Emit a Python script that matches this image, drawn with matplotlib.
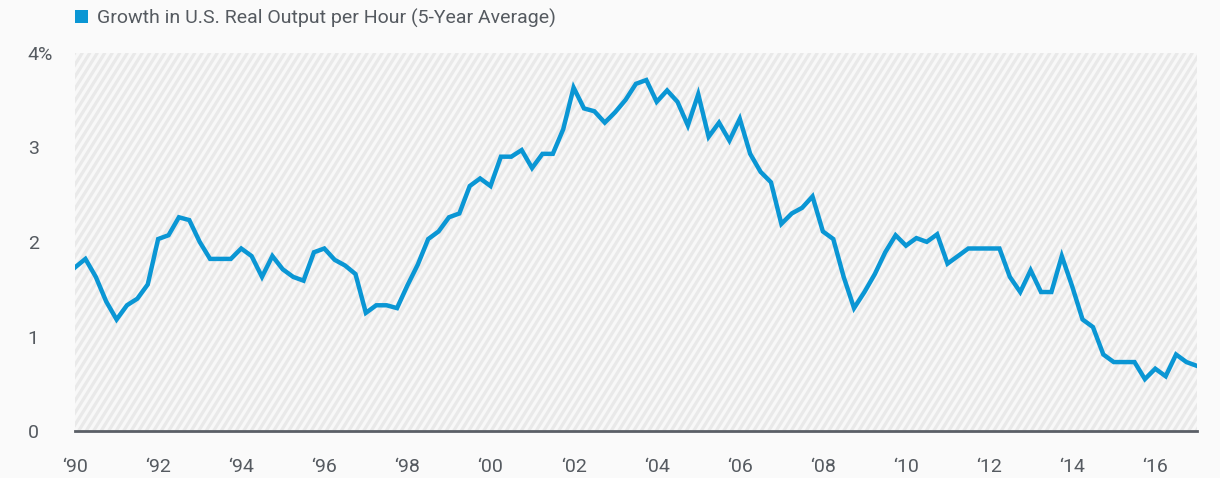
import matplotlib
matplotlib.use('Agg')
import matplotlib.pyplot as plt
from matplotlib.patches import Patch
from matplotlib.collections import LineCollection
import numpy as np

plt.rcParams['font.family'] = ['Roboto', 'DejaVu Sans']

# quarterly, 1990 Q1 .. 2017 Q1
start_year = 1990
growth = [
    1.73, 1.82, 1.63, 1.37,   # 1990
    1.18, 1.33, 1.40, 1.55,   # 1991
    2.03, 2.07, 2.26, 2.23,   # 1992
    2.00, 1.82, 1.82, 1.82,   # 1993
    1.93, 1.85, 1.63, 1.85,   # 1994
    1.71, 1.63, 1.59, 1.89,   # 1995
    1.93, 1.81, 1.75, 1.66,   # 1996
    1.25, 1.33, 1.33, 1.30,   # 1997
    1.54, 1.76, 2.03, 2.11,   # 1998
    2.26, 2.30, 2.59, 2.67,   # 1999
    2.59, 2.90, 2.90, 2.97,   # 2000
    2.78, 2.93, 2.93, 3.19,   # 2001
    3.63, 3.41, 3.38, 3.26,   # 2002
    3.37, 3.50, 3.67, 3.71,   # 2003
    3.48, 3.60, 3.48, 3.23,   # 2004
    3.56, 3.11, 3.26, 3.07,   # 2005
    3.30, 2.93, 2.74, 2.63,   # 2006
    2.19, 2.30, 2.36, 2.48,   # 2007
    2.11, 2.03, 1.63, 1.30,   # 2008
    1.47, 1.66, 1.89, 2.07,   # 2009
    1.96, 2.04, 2.00, 2.08,   # 2010
    1.77, 1.85, 1.93, 1.93,   # 2011
    1.93, 1.93, 1.63, 1.47,   # 2012
    1.70, 1.47, 1.47, 1.85,   # 2013
    1.53, 1.18, 1.10, 0.81,   # 2014
    0.73, 0.73, 0.73, 0.55,   # 2015
    0.66, 0.58, 0.81, 0.73,   # 2016
    0.69,                     # 2017
]
tick_years = list(range(1990, 2017, 2))
tick_labels = ['\u2018%02d' % (y % 100) for y in tick_years]
ytick_vals = [0, 1, 2, 3, 4]
ytick_labels = ['0', '1', '2', '3', '4%']

x = start_year + np.arange(len(growth)) / 4.0

blue = '#0a96d4'
grey_txt = '#555a60'

fig = plt.figure(figsize=(12.2, 4.78), dpi=100, facecolor='#fafafa')
ax = fig.add_axes([0.0615, 0.098, 0.9195, 0.792])
ax.set_facecolor('#f8f8f8')

# diagonal stripe background, drawn in pixel space and clipped to the axes
fig.canvas.draw()
bb = ax.get_window_extent()
step = 7.5
slope = np.tan(np.radians(58))
h = bb.height
dx = h / slope
segs = []
x0 = bb.x0 - dx
while x0 < bb.x1 + step:
    segs.append([(x0, bb.y0), (x0 + dx, bb.y1)])
    x0 += step
stripes = LineCollection(segs, colors='#e9e9e9', linewidths=2.3, transform=None, zorder=0)
ax.add_collection(stripes)
stripes.set_clip_box(ax.bbox)

ax.plot(x, growth, color=blue, linewidth=3.2, solid_joinstyle='miter', zorder=3)

ax.set_xlim(1990, 2017)
ax.set_ylim(0, 4)
ax.set_xticks(tick_years)
ax.set_xticklabels(tick_labels)
ax.set_yticks(ytick_vals)
ax.set_yticklabels(ytick_labels)
ax.tick_params(axis='x', length=0, pad=19, labelsize=14, labelcolor=grey_txt)
ax.tick_params(axis='y', length=0, pad=34, labelsize=14, labelcolor=grey_txt)
for lab in ax.get_yticklabels():
    lab.set_horizontalalignment('left')

for s in ['top', 'right', 'left']:
    ax.spines[s].set_visible(False)
ax.spines['bottom'].set_color('#5a5f66')
ax.spines['bottom'].set_linewidth(2)
ax.spines['bottom'].set_zorder(4)

leg = fig.legend(handles=[Patch(facecolor=blue, edgecolor='none')],
                 labels=['Growth in U.S. Real Output per Hour (5-Year Average)'],
                 loc='center left', bbox_to_anchor=(0.047, 0.962), frameon=False,
                 handlelength=0.7, handleheight=0.7, handletextpad=0.45,
                 fontsize=14)
for t in leg.get_texts():
    t.set_color(grey_txt)

fig.savefig('out.png', dpi=100, facecolor=fig.get_facecolor())
